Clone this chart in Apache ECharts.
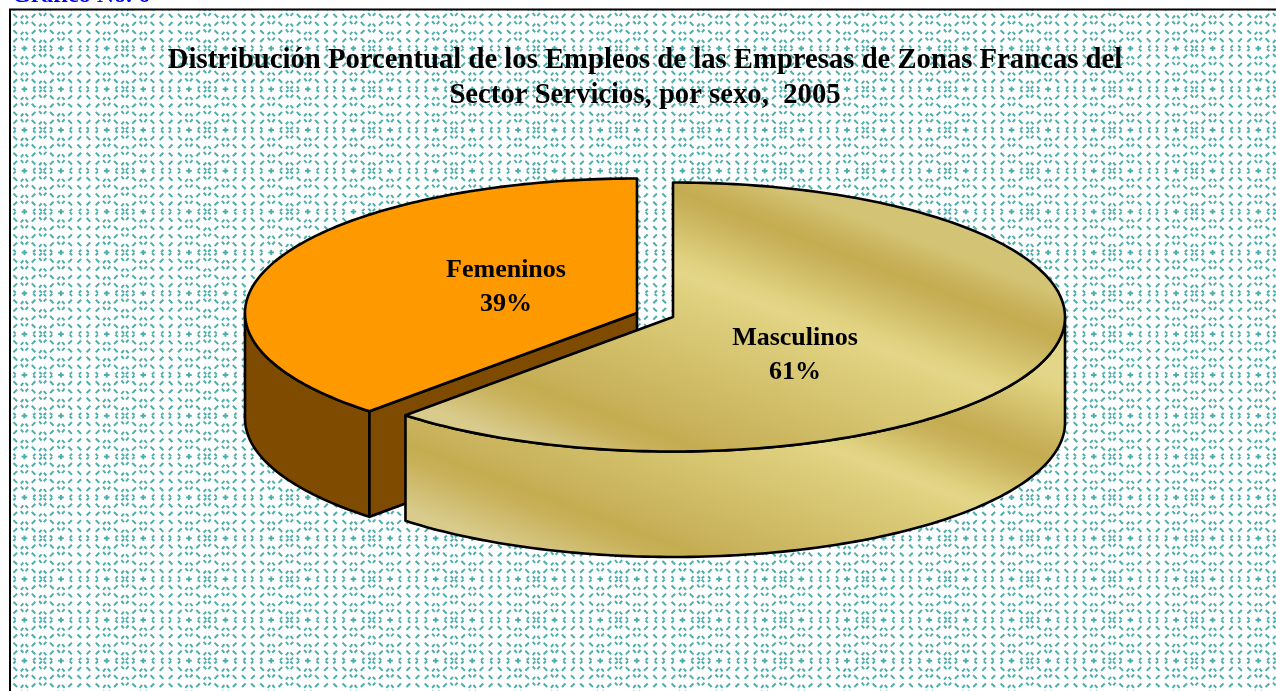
<!DOCTYPE html>
<html><head><meta charset="utf-8">
<style>html,body{margin:0;padding:0;background:#fff;overflow:hidden}#c{width:1276px;height:691px}</style>
<script src="https://cdn.jsdelivr.net/npm/echarts@6/dist/echarts.min.js"></script>
</head><body><div id="c"></div>
<script>
const categories = ['Femeninos', 'Masculinos'];
const percentages = [39, 61];
const chartTitle = 'Distribución Porcentual de los Empleos de las Empresas de Zonas Francas del\nSector Servicios, por sexo,  2005';
const caption = 'Gráfico No. 6';

const SERIF = '"Liberation Serif","Times New Roman",serif';
// pie geometry: exploded slices, tilted view
const RX = 392, RY = 134.5, DEPTH = 105.5;
const slices = [
  {cx: 637, cy: 313, labelX: 506, labelY: 287},
  {cx: 673, cy: 317, labelX: 795, labelY: 355}
];
const PERSPECTIVE = 3.5; // degrees of apparent shift from the perspective view
const warp = d => d + PERSPECTIVE * Math.sin(2 * d * Math.PI / 180);
function rim(s, deg, dy) {
  const t = warp(deg) * Math.PI / 180;
  return [s.cx + RX * Math.sin(t), s.cy - RY * Math.cos(t) + dy];
}
function arc(s, a, b, dy) {
  const pts = [], n = Math.max(2, Math.ceil(Math.abs(b - a)));
  for (let i = 0; i <= n; i++) pts.push(rim(s, a + (b - a) * i / n, dy));
  return pts;
}
// gold banded gradient, iso-lines with slope k, measured as y offset at x=683
function gold(stops) {
  const k = 0.38, lo = stops[0][0], hi = stops[stops.length - 1][0];
  const s = (hi - lo) / (1 + k * k);
  return new echarts.graphic.LinearGradient(683, lo, 683 - k * s, lo + s,
    stops.map(p => ({offset: (p[0] - lo) / (hi - lo), color: p[1]})), true);
}
const DARK = '#C4AC50', NEAR = '#C8B15A', LIGHT = '#E3D688', NEARL = '#DFD17F', PALE = '#D8CB8C', MID = '#D3C475';
const goldTop = gold([[150, MID], [179, NEAR], [193, DARK], [207, NEAR], [258, NEARL], [274, LIGHT], [290, NEARL],
  [425, NEAR], [443, DARK], [461, NEAR], [505, PALE], [540, PALE]]);
const goldSide = gold([[170, LIGHT], [236, LIGHT], [250, NEARL], [305, NEAR], [321, DARK], [337, NEAR], [380, NEARL], [393, LIGHT], [406, NEARL],
  [532, NEAR], [549, DARK], [566, NEAR], [615, PALE], [640, PALE]]);
const ORANGE = '#FF9900', BROWN = '#7F4B00';
const edge = {stroke: '#000', lineWidth: 2.6, lineJoin: 'round'};

function patternCanvas() {
  const c = document.createElement('canvas');
  c.width = 1276; c.height = 691;
  const g = c.getContext('2d');
  g.fillStyle = '#fff'; g.fillRect(0, 0, 1276, 691);
  g.strokeStyle = '#4BAEAC'; g.lineWidth = 2; g.lineCap = 'butt';
  const seg = (x, y, a, b, c2, d) => { g.beginPath(); g.moveTo(x + a, y + b); g.lineTo(x + c2, y + d); g.stroke(); };
  const L = 1.8;
  const draw = {
    '\\': (x, y) => seg(x, y, -L, -L, L, L),
    '/': (x, y) => seg(x, y, -L, L, L, -L),
    'V': (x, y) => { seg(x, y, -3.6, -2.6, -1.1, 0.2); seg(x, y, 3.6, -2.6, 1.1, 0.2); },
    '^': (x, y) => { seg(x, y, -3.6, 2.6, -1.1, -0.2); seg(x, y, 3.6, 2.6, 1.1, -0.2); },
    '>': (x, y) => { seg(x, y, -1.9, -2.8, 0.4, -0.5); seg(x, y, -1.9, 2.8, 0.4, 0.5); },
    '<': (x, y) => { seg(x, y, 1.9, -2.8, -0.4, -0.5); seg(x, y, 1.9, 2.8, -0.4, 0.5); },
    'X': (x, y) => { seg(x, y, -3.4, -2.9, -0.9, -0.7); seg(x, y, 3.4, -2.9, 0.9, -0.7); seg(x, y, -3.4, 2.9, -0.9, 0.7); seg(x, y, 3.4, 2.9, 0.9, 0.7); },
    'O': (x, y) => { seg(x, y, -2.8, 0, 2.8, 0); seg(x, y, 0, -2.6, 0, 2.6); }
  };
  const rowA = ['V','\\','^','/','/','\\','\\','^','/'];
  const rowB = ['^','/','V','\\','\\','/','/','V','\\'];
  const rowS = ['X','>','O','<','<','>','>','O','<'];
  const rows = [rowA, rowB, rowA, rowB, rowS];
  const sx = 9.14, sy = 8.165;
  for (let r = -1; r < 90; r++) {
    const y = 15.7 + r * sy;
    const row = rows[(r + 5) % 5];
    for (let q = -3; q < 145; q++) {
      const x = 42.7 + q * sx;
      draw[row[((q % 9) + 9) % 9]](x, y);
    }
  }
  g.fillStyle = '#fff';
  g.fillRect(0, 0, 11, 691); g.fillRect(0, 0, 1276, 10);
  return c;
}

function renderSlice(params, api) {
  const i = params.dataIndex, s = slices[i];
  const total = percentages.reduce((a, b) => a + b, 0);
  const sweep = api.value(0) / total * 360;
  const kids = [];
  const poly = (points, fill) => kids.push({type: 'polygon', shape: {points}, style: Object.assign({fill}, edge)});
  if (i === 0) { // counter-clockwise from 12 o'clock
    const a = -sweep;
    poly(arc(s, a, -90, 0).concat(arc(s, -90, a, DEPTH)), BROWN);
    const tip = rim(s, a, 0);
    poly([[s.cx, s.cy], [s.cx, s.cy + DEPTH], [tip[0], tip[1] + DEPTH], tip], BROWN);
    poly([[s.cx, s.cy]].concat(arc(s, a, 0, 0)), ORANGE);
  } else {
    poly(arc(s, 90, sweep, 0).concat(arc(s, sweep, 90, DEPTH)), goldSide);
    poly([[s.cx, s.cy]].concat(arc(s, 0, sweep, 0)), goldTop);
  }
  kids.push({type: 'text', z2: 10, style: {
    x: s.labelX, y: s.labelY, text: categories[i] + '\n' + api.value(0) + '%',
    textAlign: 'center', textVerticalAlign: 'middle',
    font: 'bold 26px ' + SERIF, lineHeight: 34, fill: '#000'
  }});
  return {type: 'group', children: kids};
}

const chart = echarts.init(document.getElementById('c'), null, {renderer: 'canvas'});
chart.setOption({
  animation: false,
  backgroundColor: {image: patternCanvas(), repeat: 'no-repeat'},
  title: [{
    text: chartTitle, left: 640, top: 38, textAlign: 'center',
    textStyle: {fontFamily: SERIF, fontWeight: 'bold', fontSize: 28.7, lineHeight: 35, color: '#000'}
  }],
  graphic: [
    {type: 'rect', silent: true, z: 0, shape: {x: 10, y: 9.5, width: 1300, height: 720},
     style: {fill: 'transparent', stroke: '#000', lineWidth: 2}},
    {type: 'text', silent: true, z: 5, style: {x: 12, y: -16, text: caption,
     font: 'bold 24px ' + SERIF, fill: '#0000FF'}}
  ],
  series: [{
    type: 'custom', coordinateSystem: 'none', renderItem: renderSlice, clip: false,
    data: categories.map((n, i) => ({name: n, value: [percentages[i]]}))
  }]
});
</script></body></html>
